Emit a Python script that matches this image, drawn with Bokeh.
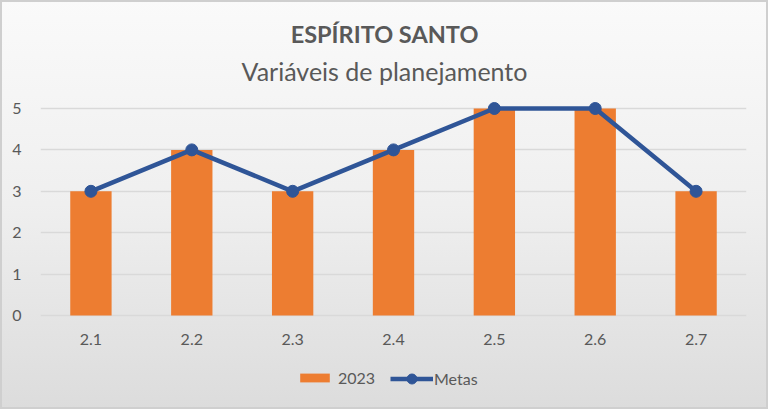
from bokeh.plotting import figure
from bokeh.models import ColumnDataSource, Label, Legend, LegendItem, FactorRange
from bokeh.embed import file_html
from bokeh.resources import INLINE

categories = ["2.1", "2.2", "2.3", "2.4", "2.5", "2.6", "2.7"]
values_2023 = [3, 4, 3, 4, 5, 5, 3]
metas = [3, 4, 3, 4, 5, 5, 3]

src = ColumnDataSource(dict(cat=categories, v=values_2023, m=metas))

FONT = "Lato"
TXT = "#595959"
H = 409
PX_PER_UNIT = 207 / 5          # value 0 at canvas y=315, value 5 at y=108
Y_TOP = 5 + 108 / PX_PER_UNIT
Y_BOT = -(H - 315) / PX_PER_UNIT

p = figure(width=768, height=H, x_range=FactorRange(*categories, range_padding=0),
           y_range=(Y_BOT, Y_TOP), output_backend="svg", toolbar_location=None,
           min_border_left=40, min_border_right=22, min_border_top=0, min_border_bottom=0)
p.border_fill_color = None
p.background_fill_color = None
p.outline_line_color = None
p.styles = {"background": "linear-gradient(to bottom, #fafafa 0%, #efefef 50%, #dcdcdc 100%)",
            "outline": "2px solid #cfcfcf", "outline-offset": "-2px"}

bars = p.vbar(x="cat", top="v", width=0.41, source=src, color="#ED7D31", line_color=None)
ln = p.line(x="cat", y="m", source=src, line_color="#2F5597", line_width=4.5)
pts = p.scatter(x="cat", y="m", source=src, size=12, fill_color="#2F5597", line_color="#2F5597")

p.xgrid.grid_line_color = None
p.ygrid.grid_line_color = "#d9d9d9"
p.ygrid.grid_line_width = 1.5
p.yaxis.ticker = [0, 1, 2, 3, 4, 5]
p.xaxis.fixed_location = 0
for ax in (p.xaxis[0], p.yaxis[0]):
    ax.axis_line_color = None
    ax.major_tick_line_color = None
    ax.minor_tick_line_color = None
    ax.major_label_text_font = FONT
    ax.major_label_text_font_size = "16px"
    ax.major_label_text_color = TXT
p.yaxis.major_label_standoff = 13
p.xaxis.major_label_standoff = 12

# Label screen coords are relative to the frame's bottom-left (frame: x0=40, bottom=409)
p.add_layout(Label(x=344, y=H - 33, x_units="screen", y_units="screen", text="ESPÍRITO SANTO",
                   text_font=FONT, text_font_style="bold", text_font_size="23.5px",
                   text_color=TXT, text_align="center", text_baseline="middle"))
p.add_layout(Label(x=344, y=H - 70, x_units="screen", y_units="screen", text="Variáveis de planejamento",
                   text_font=FONT, text_font_size="25px",
                   text_color=TXT, text_align="center", text_baseline="middle"))

common = dict(orientation="horizontal", background_fill_alpha=0, border_line_color=None,
              label_text_font=FONT, label_text_font_size="16px", label_text_color=TXT,
              padding=0, margin=0, spacing=0)
legend_a = Legend(items=[LegendItem(label="2023", renderers=[bars])],
                  location=(256, 22), glyph_width=37, glyph_height=11, label_standoff=5, **common)
legend_b = Legend(items=[LegendItem(label="Metas", renderers=[ln, pts])],
                  location=(350, 18), glyph_width=43, glyph_height=25, label_standoff=1, **common)
p.add_layout(legend_a, "center")
p.add_layout(legend_b, "center")

open("out.html", "w").write(file_html(p, INLINE))
